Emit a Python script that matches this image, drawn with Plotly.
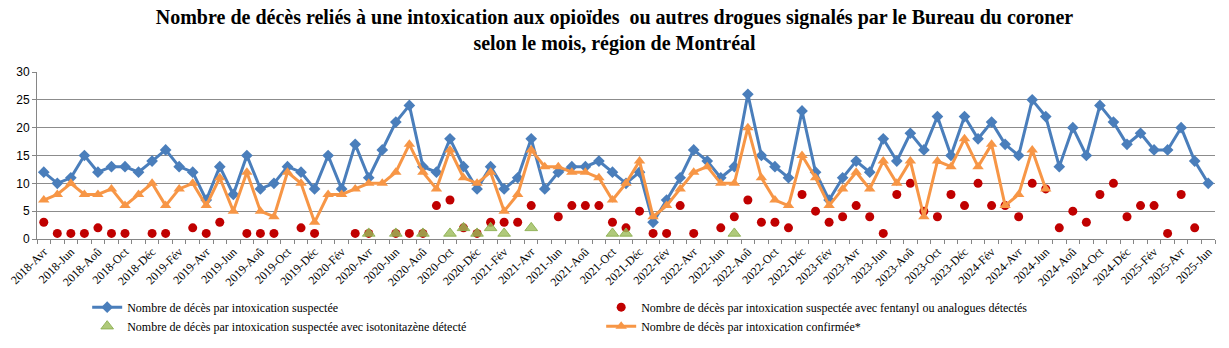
import plotly.graph_objects as go

# Monthly labels, April 2018 to June 2025
mois = ["Jan", "Fév", "Mar", "Avr", "Mai", "Jun", "Jul", "Aoû", "Sep", "Oct", "Nov", "Déc"]
periodes = [f"{a}-{m}" for a in range(2018, 2026) for m in mois]
periodes = periodes[3:periodes.index("2025-Jun") + 1]

suspectes = [12, 10, 11, 15, 12, 13, 13, 12, 14, 16, 13, 12, 7, 13, 8, 15, 9, 10, 13, 12,
             9, 15, 9, 17, 11, 16, 21, 24, 13, 12, 18, 13, 9, 13, 9, 11, 18, 9, 12, 13, 13, 14, 12,
             10, 12, 3, 7, 11, 16, 14, 11, 13, 26, 15, 13, 11, 23, 12, 7, 11, 14, 12, 18, 14, 19,
             16, 22, 15, 22, 18, 21, 17, 15, 25, 22, 13, 20, 15, 24, 21, 17, 19, 16, 16, 20, 14, 10]

fentanyl = [3, 1, 1, 1, 2, 1, 1, None, 1, 1, None, 2, 1, 3, None, 1, 1, 1, None, 2, 1,
            None, None, 1, 1, None, 1, 1, 1, 6, 7, 2, 1, 3, 3, 3, 6, None, 4, 6, 6, 6, 3,
            2, 5, 1, 1, 6, 1, None, 2, 4, 7, 3, 3, 2, 8, 5, 3, 4, 6, 4, 1, 8, 10,
            5, 4, 8, 6, 10, 6, 6, 4, 10, 9, 2, 5, 3, 8, 10, 4, 6, 6, 1, 8, 2, None]

isotonitazene = [None] * 24 + [1, None, 1, None, 1, None, 1, 2, 1, 2, 1, None, 2,
                               None, None, None, None, None, 1, 1,
                               None, None, None, None, None, None, None, 1] + [None] * 35

confirmees = [7, 8, 10, 8, 8, 9, 6, 8, 10, 6, 9, 10, 6, 11, 5, 12, 5, 4, 12, 10,
              3, 8, 8, 9, 10, 10, 12, 17, 12, 9, 16, 11, 10, 12, 5, 8, 16, 13, 13, 12, 12, 11, 7,
              10, 14, 4, 6, 9, 12, 13, 10, 10, 20, 11, 7, 6, 15, 11, 6, 9, 12, 9, 14, 10, 14,
              4, 14, 13, 18, 13, 17, 6, 8, 16, 9] + [None] * 12

x = list(range(len(periodes)))
bornes = [v - 0.5 for v in x] + [len(x) - 0.5]

serif = "Liberation Serif"
fig = go.Figure()

fig.add_trace(go.Scatter(
    x=x, y=suspectes, mode="lines+markers",
    name="Nombre de décès par intoxication suspectée",
    line=dict(color="#4A7EBB", width=3),
    marker=dict(symbol="diamond", size=9, color="#4A7EBB"),
))
fig.add_trace(go.Scatter(
    x=x, y=fentanyl, mode="markers",
    name="Nombre de décès par intoxication suspectée avec fentanyl ou analogues détectés",
    marker=dict(symbol="circle", size=9, color="#C00000"),
))
fig.add_trace(go.Scatter(
    x=x, y=isotonitazene, mode="markers",
    name="Nombre de décès par intoxication suspectée avec isotonitazène détecté",
    marker=dict(symbol="triangle-up", size=11, color="rgba(155,187,89,0.8)",
                line=dict(color="rgba(140,175,80,0.9)", width=1)),
))
fig.add_trace(go.Scatter(
    x=x, y=confirmees, mode="lines+markers",
    name="Nombre de décès par intoxication confirmée*",
    line=dict(color="#F79646", width=3),
    marker=dict(symbol="triangle-up", size=10, color="#F79646"),
))
# empty trace carrying the overlay axis used for the month-boundary tick marks
fig.add_trace(go.Scatter(x=[], y=[], xaxis="x2", showlegend=False, hoverinfo="skip"))

fig.update_layout(
    width=1229, height=348,
    margin=dict(l=37, r=14, t=72, b=109, autoexpand=False),
    paper_bgcolor="white", plot_bgcolor="white",
    title=dict(
        text="Nombre de décès reliés à une intoxication aux opioïdes  ou autres drogues signalés par le Bureau du coroner<br>selon le mois, région de Montréal",
        x=0.5, xanchor="center", yref="container", y=0.93, yanchor="top",
        font=dict(family=serif, size=20, color="black", weight="bold"),
    ),
    showlegend=True,
    legend=dict(
        orientation="h", x=0.0426, xanchor="left",
        yref="container", y=0.159, yanchor="top",
        font=dict(family=serif, size=12, color="black"),
        entrywidth=469, entrywidthmode="pixels",
        bgcolor="rgba(0,0,0,0)", traceorder="normal",
    ),
    xaxis=dict(
        range=[-0.5, len(periodes) - 0.5],
        tickmode="array", tickvals=x[::2], ticktext=periodes[::2],
        tickangle=-45, ticks="", showgrid=False, zeroline=False,
        showline=True, linecolor="#868686", linewidth=1,
        tickfont=dict(family=serif, size=12, color="black"),
    ),
    xaxis2=dict(
        overlaying="x", anchor="y", side="bottom",
        range=[-0.5, len(periodes) - 0.5],
        tickmode="array", tickvals=bornes, showticklabels=False,
        ticks="outside", ticklen=4, tickcolor="#868686",
        showgrid=False, zeroline=False, showline=False,
    ),
    yaxis=dict(
        range=[0, 30], dtick=5, showgrid=True, gridcolor="#8C8C8C", gridwidth=1,
        zeroline=False, showline=True, linecolor="#868686", linewidth=1,
        ticks="outside", ticklen=4, tickcolor="#868686",
        tickfont=dict(family="Liberation Sans", size=12, color="black"),
    ),
)

fig.write_html("out.html")
